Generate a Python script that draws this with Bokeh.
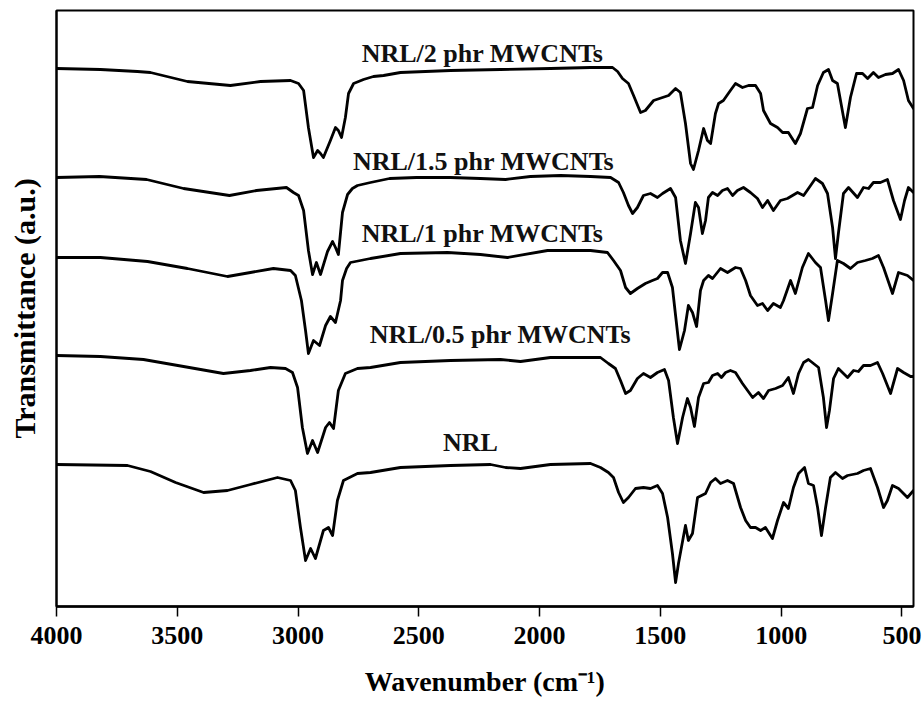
from bokeh.plotting import figure
from bokeh.models import Range1d, FixedTicker
from bokeh.core.properties import value
from bokeh.embed import file_html
from bokeh.resources import INLINE

# ---- data (wavenumber in cm-1, transmittance in a.u. with offsets) ----
nrl2_wn = [4000, 3818, 3665, 3611, 3458, 3280, 3155, 3031, 2998, 2977, 2957, 2936, 2919, 2907, 2895,
           2866, 2845, 2833, 2820, 2804, 2791, 2770, 2729, 2688, 2646, 2576, 2369, 2162, 1955, 1789,
           1698, 1677, 1657, 1632, 1611, 1582, 1562, 1528, 1491, 1466, 1437, 1417, 1396, 1375, 1363,
           1342, 1321, 1305, 1292, 1272, 1259, 1239, 1210, 1189, 1160, 1135, 1106, 1085, 1073, 1044,
           1015, 994, 970, 941, 920, 891, 870, 849, 825, 804, 787, 767, 734, 713, 688,
           663, 642, 618, 597, 568, 539, 514, 493, 473, 452]
nrl2_t = [538, 537, 535, 534, 525, 521, 525, 526, 523, 516, 479, 449, 456, 453, 449,
          466, 479, 476, 469, 489, 513, 523, 527, 530, 531, 534, 536, 537, 538, 539,
          539, 535, 528, 523, 511, 494, 496, 506, 509, 511, 518, 514, 483, 443, 437,
          456, 478, 466, 463, 493, 503, 506, 516, 523, 519, 521, 521, 513, 496, 483,
          479, 474, 474, 463, 473, 498, 499, 521, 534, 537, 526, 523, 479, 509, 533,
          533, 528, 534, 529, 532, 533, 537, 526, 506, 498]

nrl15_wn = [4000, 3822, 3627, 3474, 3284, 3172, 3048, 3019, 2998, 2977, 2957, 2940, 2924, 2907, 2878,
            2857, 2845, 2833, 2816, 2795, 2775, 2754, 2700, 2621, 2510, 2369, 2245, 2141, 2038, 1913,
            1789, 1706, 1673, 1653, 1632, 1615, 1595, 1570, 1541, 1512, 1491, 1458, 1437, 1417, 1396,
            1375, 1355, 1342, 1326, 1313, 1301, 1284, 1263, 1243, 1222, 1201, 1181, 1156, 1127, 1098,
            1077, 1056, 1032, 1003, 974, 932, 907, 878, 858, 829, 808, 787, 775, 763, 742,
            721, 684, 659, 638, 618, 589, 560, 535, 506, 489, 473, 452]
nrl15_t = [429, 430, 427, 418, 411, 416, 419, 414, 411, 396, 356, 332, 344, 332, 355,
           365, 359, 352, 394, 412, 418, 421, 424, 428, 429, 429, 428, 427, 430, 431,
           430, 429, 424, 414, 401, 393, 399, 411, 413, 409, 413, 418, 409, 366, 343,
           373, 404, 399, 373, 386, 409, 414, 411, 416, 418, 411, 416, 419, 414, 408,
           399, 406, 396, 406, 408, 414, 411, 421, 428, 423, 413, 379, 348, 373, 413,
           419, 409, 419, 418, 424, 424, 427, 406, 387, 406, 419, 414]

nrl1_wn = [4000, 3818, 3623, 3458, 3292, 3197, 3102, 3031, 3011, 2986, 2969, 2957, 2936, 2911, 2886,
           2866, 2845, 2824, 2816, 2799, 2783, 2700, 2576, 2381, 2245, 2133, 1967, 1789, 1719, 1694,
           1665, 1644, 1624, 1595, 1562, 1533, 1512, 1491, 1470, 1450, 1437, 1421, 1400, 1384, 1367,
           1350, 1334, 1321, 1301, 1284, 1251, 1222, 1189, 1168, 1147, 1127, 1098, 1077, 1056, 1032,
           1003, 990, 961, 941, 912, 887, 858, 837, 816, 804, 787, 767, 742, 713, 684,
           651, 622, 597, 576, 539, 514, 477, 452]
nrl1_t = [349, 349, 345, 338, 330, 334, 338, 336, 331, 306, 276, 253, 266, 261, 281,
          290, 284, 306, 326, 338, 344, 348, 353, 354, 352, 349, 356, 356, 354, 346,
          336, 319, 313, 318, 323, 326, 328, 334, 334, 319, 291, 257, 276, 301, 294,
          280, 316, 326, 331, 328, 338, 334, 339, 338, 326, 311, 301, 303, 296, 303,
          299, 306, 326, 313, 339, 353, 344, 339, 306, 286, 313, 346, 343, 338, 344,
          346, 348, 351, 339, 313, 334, 331, 326]

nrl05_wn = [4000, 3818, 3640, 3474, 3309, 3197, 3114, 3052, 3023, 3002, 2982, 2961, 2940, 2919, 2886,
            2870, 2853, 2833, 2804, 2754, 2700, 2576, 2369, 2162, 2079, 1955, 1789, 1748, 1715, 1686,
            1665, 1644, 1624, 1595, 1570, 1541, 1512, 1483, 1466, 1446, 1429, 1408, 1388, 1375, 1359,
            1342, 1321, 1301, 1284, 1263, 1247, 1230, 1210, 1189, 1160, 1139, 1118, 1094, 1073, 1052,
            1023, 994, 970, 949, 928, 907, 887, 866, 845, 825, 812, 800, 783, 763, 725,
            700, 680, 659, 630, 601, 580, 547, 518, 493, 464, 452]
nrl05_t = [251, 250, 247, 240, 233, 236, 239, 238, 234, 219, 179, 153, 166, 154, 179,
           184, 178, 216, 233, 238, 239, 244, 246, 247, 245, 249, 249, 249, 243, 238,
           226, 213, 216, 228, 233, 229, 234, 237, 226, 189, 163, 189, 208, 199, 180,
           209, 223, 224, 231, 233, 229, 234, 236, 234, 223, 216, 209, 214, 208, 216,
           218, 221, 229, 213, 233, 244, 247, 243, 239, 209, 179, 196, 228, 238, 229,
           236, 235, 241, 241, 244, 233, 213, 238, 234, 230, 230]

nrl_wn = [4000, 3706, 3611, 3507, 3391, 3292, 3197, 3085, 3031, 3011, 2990, 2969, 2948, 2928, 2895,
          2874, 2857, 2837, 2812, 2754, 2700, 2576, 2369, 2203, 2141, 2079, 1955, 1789, 1748, 1715,
          1694, 1673, 1653, 1632, 1603, 1570, 1541, 1512, 1491, 1470, 1450, 1437, 1425, 1396, 1384,
          1367, 1346, 1313, 1292, 1272, 1251, 1222, 1197, 1168, 1147, 1127, 1106, 1085, 1065, 1036,
          1015, 990, 970, 949, 928, 903, 887, 866, 849, 833, 816, 796, 775, 746, 725,
          684, 659, 630, 601, 576, 560, 539, 514, 477, 452]
nrl_t = [142, 141, 135, 124, 114, 116, 122, 129, 126, 116, 79, 46, 58, 48, 76,
         79, 71, 106, 126, 133, 134, 139, 141, 142, 139, 138, 142, 143, 139, 134,
         129, 114, 104, 109, 118, 119, 118, 121, 113, 89, 53, 24, 43, 81, 66,
         73, 109, 113, 124, 128, 123, 126, 123, 99, 86, 79, 79, 76, 79, 68,
         86, 104, 98, 119, 133, 139, 123, 121, 99, 71, 99, 129, 134, 128, 131,
         133, 136, 138, 119, 99, 106, 121, 118, 109, 116]

series_wn = [nrl2_wn, nrl15_wn, nrl1_wn, nrl05_wn, nrl_wn]
series_t = [nrl2_t, nrl15_t, nrl1_t, nrl05_t, nrl_t]

label_text = ["NRL/2 phr MWCNTs", "NRL/1.5 phr MWCNTs", "NRL/1 phr MWCNTs",
              "NRL/0.5 phr MWCNTs", "NRL"]
label_wn = [2236, 2232, 2236, 2162, 2286]
label_t = [553, 445, 373, 272, 164]

x_ticks = [4000, 3500, 3000, 2500, 2000, 1500, 1000, 500]

FONT = "Liberation Serif"

p = figure(width=924, height=704, output_backend="svg", toolbar_location=None,
           x_range=Range1d(4000, 452), y_range=Range1d(0, 596),
           min_border_left=56, min_border_right=11, min_border_top=10,
           min_border_bottom=98)

p.xgrid.visible = False
p.ygrid.visible = False
p.outline_line_color = "black"
p.outline_line_width = 2
p.background_fill_color = "white"
p.border_fill_color = "white"

for wn, t in zip(series_wn, series_t):
    p.line(wn, t, line_color="black", line_width=2.8, line_join="round", line_cap="round")

p.text(x=label_wn, y=label_t, text=label_text, text_font=value(FONT),
       text_font_style="bold", text_font_size="26px", text_align="center",
       text_baseline="alphabetic", text_color="#111111")

xa = p.xaxis[0]
xa.ticker = FixedTicker(ticks=x_ticks)
xa.major_tick_out = 10
xa.major_tick_in = 0
xa.major_tick_line_width = 1.5
xa.major_tick_line_color = "black"
xa.minor_tick_line_color = None
xa.axis_line_width = 2.5
xa.axis_line_color = "black"
xa.major_label_text_font = FONT
xa.major_label_text_font_style = "bold"
xa.major_label_text_font_size = "26px"
xa.major_label_text_color = "black"
xa.major_label_standoff = 10
xa.axis_label = "Wavenumber (cm\u207b\u00b9)"
xa.axis_label_text_font = FONT
xa.axis_label_text_font_style = "bold"
xa.axis_label_text_font_size = "28px"
xa.axis_label_text_color = "black"
xa.axis_label_standoff = 19

ya = p.yaxis[0]
ya.ticker = FixedTicker(ticks=[])
ya.major_tick_line_color = None
ya.minor_tick_line_color = None
ya.major_label_text_font_size = "0px"
ya.axis_line_width = 2
ya.axis_line_color = "black"
ya.axis_label = "Transmittance (a.u.)"
ya.axis_label_text_font = FONT
ya.axis_label_text_font_style = "bold"
ya.axis_label_text_font_size = "30px"
ya.axis_label_text_color = "black"
ya.axis_label_standoff = 16

open("out.html", "w").write(file_html(p, INLINE))
